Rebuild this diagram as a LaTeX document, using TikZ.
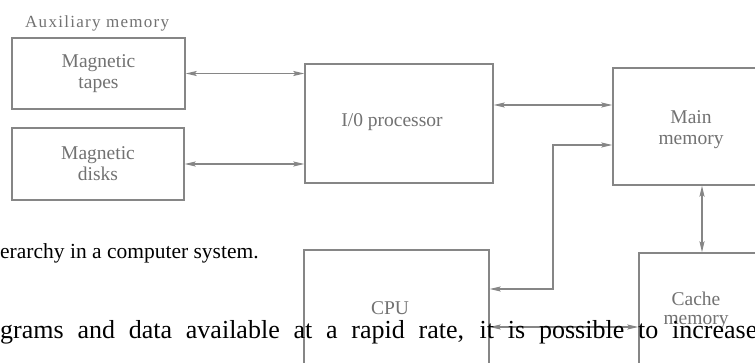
\documentclass[tikz,border=0pt]{standalone}
\usepackage{fontspec}
\setmainfont{Liberation Serif}
\newfontfamily\auxfont[LetterSpace=7.5]{Liberation Serif}
\usetikzlibrary{arrows.meta}
\definecolor{ink}{HTML}{868686}
\definecolor{txt}{HTML}{727272}
\tikzset{
  blk/.style={draw=ink, line width=1.4pt, rectangle, inner sep=0pt, text=txt,
    font=\fontsize{19.5}{21}\selectfont, align=center},
  lbl/.style={text=txt, font=\fontsize{19.5}{21}\selectfont, align=center, inner sep=0pt},
  link/.style={draw=ink, line width=1.2pt,
    {Stealth[length=11pt,width=5pt,inset=2pt]}-{Stealth[length=11pt,width=5pt,inset=2pt]}},
  pagetext/.style={text=black, inner sep=0pt, anchor=base west},
}
\begin{document}
\begin{tikzpicture}[x=1pt,y=-1pt]
\useasboundingbox (0,0) rectangle (755,363);
\clip (0,0) rectangle (755,363);
\fill[white] (0,0) rectangle (755,363);

\node[anchor=base west, text=txt, inner sep=0pt, font=\auxfont\fontsize{17}{20}\selectfont] (aux) at (25,28) {Auxiliary memory};

\node[blk, minimum width=173pt, minimum height=71pt] (tapes) at (98.5,73.5) {Magnetic\\tapes};
\node[blk, minimum width=172pt, minimum height=72pt] (disks) at (98,164) {Magnetic\\disks};
\node[blk, minimum width=188pt, minimum height=119pt] (io) at (399,123.5) {};
\node[lbl] (iolbl) at (392,122) {I/0 processor};
\node[blk, minimum width=178pt, minimum height=117pt] (main) at (702,126.5) {};
\node[lbl] (mainlbl) at (691,130) {Main\\memory};
\node[blk, minimum width=185pt, minimum height=154pt] (cpu) at (396.5,327) {};
\node[lbl] (cpulbl) at (390,308) {CPU};
\node[blk, minimum width=126pt, minimum height=148pt] (cache) at (702,327) {};
\node[lbl, font=\fontsize{19.5}{19}\selectfont] (cachelbl) at (696,310) {Cache\\memory};

\draw[link] (tapes.east) -- (tapes.east -| io.west);
\draw[link] (disks.east) -- (disks.east -| io.west);
\draw[link] ([yshift=18.5pt]io.east) -- ([yshift=18.5pt]io.east -| main.west);
\coordinate (bend) at (553,200);
\draw[link] ([yshift=38pt]cpu.east) -| (bend) |- ([yshift=-18.5pt]main.west);
\draw[link] (main.south) -- (cache.north);
\draw[link] (cpu.east) -- (cpu.east -| cache.west);

\node[pagetext, font=\fontsize{21.5}{24}\selectfont] (cap) at (0,259) {erarchy in a computer system.};
\node[pagetext, font=\fontsize{26}{30}\selectfont] (body) at (0,338) {\makebox[757pt][s]{grams and data available at a rapid rate, it is possible to increase}};
\end{tikzpicture}
\end{document}
